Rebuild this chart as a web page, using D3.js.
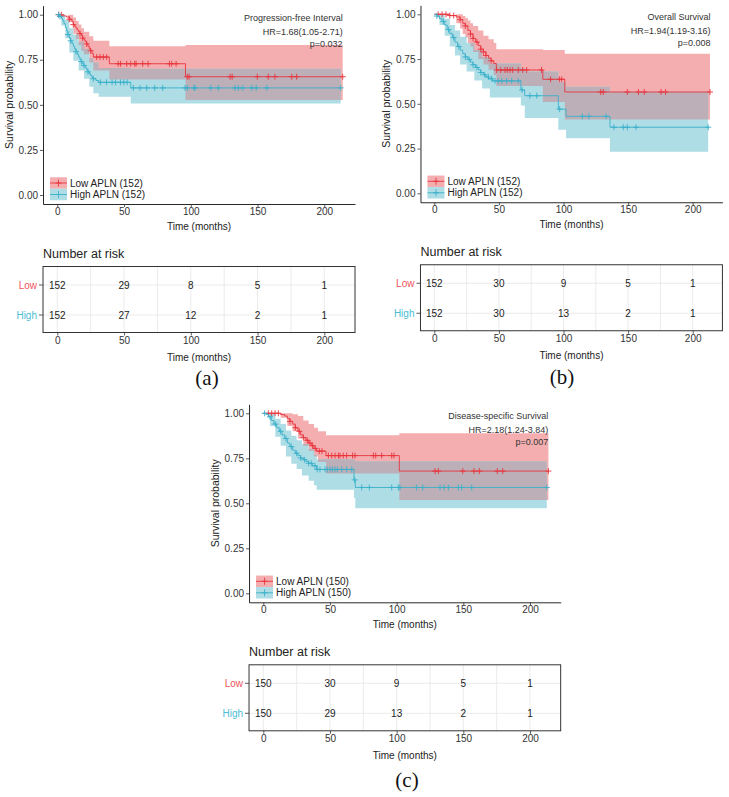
<!DOCTYPE html>
<html><head><meta charset="utf-8">
<script src="https://cdn.jsdelivr.net/npm/d3@7"></script>
<style>body{margin:0;background:#fff}svg{display:block}</style>
</head><body><svg id="c" width="729" height="797"></svg>
<script>
// ---------------- DATA ----------------
const timeTicks = [0, 50, 100, 150, 200];
const survTicks = [0, 0.25, 0.5, 0.75, 1];
const gridTimes = [0, 25, 50, 75, 100, 125, 150, 175, 200];
const groupNames = ["Low", "High"];

// (a) Progression-free Interval
const pfiTitle = ["Progression-free Interval", "HR=1.68(1.05-2.71)", "p=0.032"];
const pfiLegend = ["Low APLN (152)", "High APLN (152)"];
const pfiLowT = [0,4,7,9,11,12,13,14,15,16,17,18,19,20,21,22,23,24,25,26,27,39,96];
const pfiLowS = [1,0.993,0.987,0.975,0.96,0.945,0.935,0.925,0.915,0.905,0.895,0.885,0.87,0.86,0.85,0.838,0.825,0.81,0.8,0.785,0.765,0.728,0.656];
const pfiLowCiT = [0,8,12,14,16,18,20,24,27,39,96];
const pfiLowLo = [1,0.96,0.895,0.865,0.83,0.80,0.78,0.735,0.69,0.64,0.527];
const pfiLowHi = [1,1,0.985,0.965,0.945,0.925,0.905,0.88,0.855,0.825,0.832];
const pfiLowCens = [1,3,9,12,17,19,22,25,29.5,32,34.5,37,45.6,47.4,52,55,58,59,64,68,84,85.7,89,97.4,98.7,129.4,131,149.8,158,163,175.6,179.3,213.8];
const pfiHighT = [0,2,3,4,5,6,7,8,9,10,11,12,13,14,15,16,17,18,19,20,21,22,23,24,25,26,27,29,31,55];
const pfiHighS = [1,0.99,0.98,0.967,0.95,0.93,0.91,0.89,0.87,0.855,0.84,0.825,0.81,0.795,0.78,0.765,0.75,0.74,0.728,0.718,0.707,0.695,0.683,0.672,0.662,0.652,0.645,0.635,0.625,0.594];
const pfiHighCiT = [0,3,6,9,12,16,20,24,27,31,55];
const pfiHighLo = [1,0.94,0.87,0.79,0.745,0.69,0.645,0.6,0.565,0.545,0.507];
const pfiHighHi = [1,1,0.97,0.925,0.89,0.85,0.81,0.76,0.735,0.705,0.70];
const pfiHighCens = [1,2,8,10,14,18,20,23,27,32.3,36.8,41,43.6,47.3,49.8,52.3,57,62,67,73,79,95.7,97.4,102.4,103.1,114.9,120.6,133.1,135.6,138.9,145.6,149,156.9,212.3];
const pfiEnd = [213.8, 212.3];
const pfiRiskLow = [152, 29, 8, 5, 1];
const pfiRiskHigh = [152, 27, 12, 2, 1];

// (b) Overall Survival
const osTitle = ["Overall Survival", "HR=1.94(1.19-3.16)", "p=0.008"];
const osLegend = ["Low APLN (152)", "High APLN (152)"];
const osLowT = [0,12,17,20,22,24,26,28,30,32,34,36,38,40,42,44,46,48,84,101];
const osLowS = [1,0.993,0.985,0.97,0.95,0.935,0.91,0.89,0.865,0.845,0.825,0.805,0.79,0.77,0.755,0.74,0.725,0.689,0.637,0.566];
const osLowCiT = [0,17,20,22,24,26,28,30,34,38,42,46,48,84,101];
const osLowLo = [1,0.95,0.92,0.89,0.87,0.84,0.82,0.79,0.75,0.72,0.69,0.66,0.60,0.51,0.412];
const osLowHi = [1,1,1,0.99,0.98,0.965,0.95,0.935,0.91,0.88,0.86,0.84,0.805,0.80,0.78];
const osLowCens = [3,6,9,12,15,20,24,28,30,33,36,38,40,44,48.3,51.4,54.7,56.5,58.6,60.7,65,68.4,71.5,83,90,96.8,98.6,128.8,130.8,149.4,158,162.5,175.5,179,213.4];
const osHighT = [0,2,4,6,8,10,12,14,16,18,20,22,24,26,28,30,32,34,36,38,40,42,45,67,70,96,102,136];
const osHighS = [1,0.99,0.975,0.96,0.94,0.915,0.893,0.87,0.845,0.82,0.8,0.78,0.762,0.748,0.733,0.718,0.703,0.69,0.675,0.662,0.65,0.64,0.628,0.577,0.545,0.47,0.43,0.369];
const osHighCiT = [0,4,8,12,16,20,25,31,37,43,67,70,96,102,136];
const osHighLo = [1,0.94,0.88,0.82,0.77,0.72,0.68,0.63,0.585,0.535,0.49,0.42,0.355,0.307,0.232];
const osHighHi = [1,1,0.975,0.94,0.91,0.875,0.84,0.8,0.76,0.725,0.70,0.68,0.62,0.595,0.568];
const osHighCens = [2,7,11,15,19,24,27,30,33,36,39,41.8,44.4,47,49.5,52.2,56,59.9,65,68,74,79.3,97,114.6,119.7,132.9,139,146.3,149.4,156.1,212];
const osEnd = [213.4, 212];
const osRiskLow = [152, 30, 9, 5, 1];
const osRiskHigh = [152, 30, 13, 2, 1];

// (c) Disease-specific Survival
const dssTitle = ["Disease-specific Survival", "HR=2.18(1.24-3.84)", "p=0.007"];
const dssLegend = ["Low APLN (150)", "High APLN (150)"];
const dssLowT = [0,13,16,18,20,22,24,26,28,30,32,34,36,38,40,47,102];
const dssLowS = [1,0.993,0.985,0.97,0.955,0.94,0.92,0.9,0.88,0.865,0.85,0.835,0.82,0.805,0.79,0.765,0.679];
const dssLowCiT = [0,13,18,22,26,30,34,38,41,47,102];
const dssLowLo = [1,0.975,0.93,0.9,0.86,0.82,0.79,0.76,0.73,0.665,0.518];
const dssLowHi = [1,1,1,0.995,0.985,0.96,0.94,0.92,0.9,0.878,0.889];
const dssLowCens = [3.8,6.3,8.8,11.3,20,24,27,30,33,35,37,39,42,44,48.8,51.3,53.8,56.3,57.5,60,62.5,67,68.8,82.5,84.3,88.8,96.3,98,128.8,131.3,149.6,158,162,175.5,179.6,213.8];
const dssHighT = [0,2,4,6,8,10,12,14,16,18,20,22,24,26,28,30,32,34,37,40,68,69];
const dssHighS = [1,0.993,0.98,0.96,0.94,0.92,0.9,0.88,0.86,0.835,0.815,0.795,0.778,0.765,0.752,0.742,0.732,0.722,0.708,0.688,0.63,0.588];
const dssHighCiT = [0,5,9,13,17,21,25,29,34,38,40,68,69];
const dssHighLo = [1,0.93,0.87,0.82,0.76,0.72,0.69,0.655,0.625,0.6,0.575,0.53,0.472];
const dssHighHi = [1,1,0.97,0.94,0.905,0.875,0.85,0.83,0.8,0.77,0.745,0.74,0.733];
const dssHighCens = [1,5,9,13,17,21,25,28,31,34,36,38.8,40.5,42.5,46.3,48,50,51.8,53.8,55.5,58.8,62.5,66.3,68.5,73.8,79.5,96.3,101.3,102.5,115,119.6,132.5,135.5,138.8,146.3,148.8,156.3,212.6];
const dssEnd = [213.8, 212.6];
const dssRiskLow = [150, 30, 9, 5, 1];
const dssRiskHigh = [150, 29, 13, 2, 1];

const panelLetters = ["(a)", "(b)", "(c)"];

// ---------------- BUILD ----------------
const panels = [
  {title: pfiTitle, legend: pfiLegend, risk: [pfiRiskLow, pfiRiskHigh],
   groups: [
     {t: pfiLowT, s: pfiLowS, ciT: pfiLowCiT, lo: pfiLowLo, hi: pfiLowHi, cens: pfiLowCens, end: pfiEnd[0]},
     {t: pfiHighT, s: pfiHighS, ciT: pfiHighCiT, lo: pfiHighLo, hi: pfiHighHi, cens: pfiHighCens, end: pfiEnd[1]}]},
  {title: osTitle, legend: osLegend, risk: [osRiskLow, osRiskHigh],
   groups: [
     {t: osLowT, s: osLowS, ciT: osLowCiT, lo: osLowLo, hi: osLowHi, cens: osLowCens, end: osEnd[0]},
     {t: osHighT, s: osHighS, ciT: osHighCiT, lo: osHighLo, hi: osHighHi, cens: osHighCens, end: osEnd[1]}]},
  {title: dssTitle, legend: dssLegend, risk: [dssRiskLow, dssRiskHigh],
   groups: [
     {t: dssLowT, s: dssLowS, ciT: dssLowCiT, lo: dssLowLo, hi: dssLowHi, cens: dssLowCens, end: dssEnd[0]},
     {t: dssHighT, s: dssHighS, ciT: dssHighCiT, lo: dssHighLo, hi: dssHighHi, cens: dssHighCens, end: dssEnd[1]}]}
];

// layout (pixel positions)
const layout = [
  {x0: 57.3, x200: 324.3, y1: 14.7, y0: 195, letter: [207, 378]},
  {x0: 434.3, x200: 692.7, y1: 14.3, y0: 193.3, letter: [562, 377]},
  {x0: 263.3, x200: 530, y1: 413.3, y0: 593.3, letter: [407, 780]}
];

const FONT = '"Liberation Sans", Arial, Helvetica, sans-serif';
const lineCol = ["#E8353E", "#3AB0CA"];
const bandCol = ["#F5AEB0", "#AEDDE6"];
const overlapCol = "#BCAFB8";
const labelCol = ["#F0525A", "#4DBDD4"];
const tickText = "#333";

const svg = d3.select("#c");

function stepVal(times, vals, t) {
  let v = vals[0];
  for (let i = 0; i < times.length; i++) { if (times[i] <= t) v = vals[i]; else break; }
  return v;
}

function styleAxis(ax, size) {
  ax.attr("font-family", FONT).attr("font-size", size);
  ax.selectAll(".tick text").attr("fill", tickText);
  ax.selectAll(".tick line").attr("stroke", "#333").attr("stroke-width", 0.8);
  ax.select(".domain").attr("stroke", "#111").attr("stroke-width", 0.9);
}

function drawPanel(P, L, idx) {
  const g = svg.append("g");
  const sx = (L.x200 - L.x0) / 200;
  const x = d3.scaleLinear().domain([-10.7, 223]).range([L.x0 - 10.7 * sx, L.x0 + 223 * sx]);
  const sy = L.y0 - L.y1;
  const y = d3.scaleLinear().domain([-0.05, 1.05]).range([L.y0 + 0.05 * sy, L.y1 - 0.05 * sy]);
  const xL = x(-10.7), xR = x(223), yB = y(-0.05), yT = y(1.05);

  const area = d3.area().curve(d3.curveStepAfter).x(d => x(d[0])).y0(d => y(d[1])).y1(d => y(d[2]));
  const line = d3.line().curve(d3.curveStepAfter).x(d => x(d[0])).y(d => y(d[1]));

  // bands
  P.groups.forEach((G, i) => {
    const pts = G.ciT.map((t, k) => [t, G.lo[k], G.hi[k]]);
    pts.push([G.end, G.lo[G.lo.length - 1], G.hi[G.hi.length - 1]]);
    g.append("path").attr("d", area(pts)).attr("fill", bandCol[i]);
  });
  // overlap
  const A = P.groups[0], B = P.groups[1];
  const endMin = Math.min(A.end, B.end);
  const ts = Array.from(new Set(A.ciT.concat(B.ciT))).filter(t => t < endMin).sort((a, b) => a - b);
  ts.push(endMin);
  const ov = ts.map(t => {
    const lo = Math.max(stepVal(A.ciT, A.lo, t), stepVal(B.ciT, B.lo, t));
    let hi = Math.min(stepVal(A.ciT, A.hi, t), stepVal(B.ciT, B.hi, t));
    if (hi < lo) hi = lo;
    return [t, lo, hi];
  });
  g.append("path").attr("d", area(ov)).attr("fill", overlapCol);

  // curves
  P.groups.forEach((G, i) => {
    const pts = G.t.map((t, k) => [t, G.s[k]]);
    pts.push([G.end, G.s[G.s.length - 1]]);
    g.append("path").attr("d", line(pts)).attr("fill", "none").attr("stroke", lineCol[i]).attr("stroke-width", 0.9);
    g.append("g").selectAll("path").data(G.cens).join("path")
      .attr("transform", c => `translate(${x(c)},${y(stepVal(G.t, G.s, c))})`)
      .attr("d", "M-3,0H3M0,-3V3").attr("stroke", lineCol[i]).attr("stroke-width", 0.9).attr("fill", "none");
  });

  // axes
  const ax = g.append("g").attr("transform", `translate(0,${yB})`)
    .call(d3.axisBottom(x).tickValues(timeTicks).tickSize(3).tickSizeOuter(0).tickPadding(1));
  styleAxis(ax, 10);
  const ay = g.append("g").attr("transform", `translate(${xL},0)`)
    .call(d3.axisLeft(y).tickValues(survTicks).tickFormat(d3.format(".2f")).tickSize(3).tickSizeOuter(0).tickPadding(2));
  styleAxis(ay, 10);

  g.append("text").attr("x", (xL + xR) / 2).attr("y", yB + 22).attr("dy", "0.35em")
    .attr("text-anchor", "middle").attr("font-family", FONT).attr("font-size", 10).attr("fill", "#222")
    .text("Time (months)");
  g.append("text").attr("transform", `translate(${xL - 30},${(yT + yB) / 2}) rotate(-90)`)
    .attr("text-anchor", "middle").attr("font-family", FONT).attr("font-size", 10.5).attr("fill", "#222")
    .text("Survival probability");

  // annotation
  P.title.forEach((s, k) => {
    g.append("text").attr("x", x(213) + 1).attr("y", y(1) + [3, 17, 29][k]).attr("dy", "0.35em")
      .attr("text-anchor", "end").attr("font-family", FONT).attr("font-size", 9).attr("fill", "#333").text(s);
  });

  // legend
  P.legend.forEach((s, i) => {
    const ky = y(0) + (i === 0 ? -12 : -0.5);
    const kx = xL + 7;
    g.append("rect").attr("x", kx).attr("y", ky - 5.75).attr("width", 17).attr("height", 11.5).attr("fill", bandCol[i]);
    g.append("line").attr("x1", kx).attr("x2", kx + 17).attr("y1", ky).attr("y2", ky).attr("stroke", lineCol[i]).attr("stroke-width", 0.9);
    g.append("path").attr("transform", `translate(${kx + 8.5},${ky})`).attr("d", "M-3,0H3M0,-3.5V3.5")
      .attr("stroke", lineCol[i]).attr("stroke-width", 0.9);
    g.append("text").attr("x", kx + 20).attr("y", ky).attr("dy", "0.35em").attr("font-family", FONT)
      .attr("font-size", 10).attr("fill", "#222").text(s);
  });

  // risk table
  const top = yB + 62.5, bot = yB + 128.5;
  const row = d3.scalePoint().domain(groupNames).range([yB + 81, yB + 111]);
  g.append("text").attr("x", xL).attr("y", yB + 49.5).attr("dy", "0.35em").attr("font-family", FONT)
    .attr("font-size", 12.5).attr("fill", "#222").text("Number at risk");
  g.append("g").selectAll("line").data(gridTimes).join("line")
    .attr("x1", d => x(d)).attr("x2", d => x(d)).attr("y1", top).attr("y2", bot)
    .attr("stroke", "#E6E6E6").attr("stroke-width", 0.8);
  g.append("g").selectAll("line").data(groupNames).join("line")
    .attr("x1", xL).attr("x2", xR).attr("y1", d => row(d)).attr("y2", d => row(d))
    .attr("stroke", "#E6E6E6").attr("stroke-width", 0.8);
  g.append("rect").attr("x", xL).attr("y", top).attr("width", xR - xL).attr("height", bot - top)
    .attr("fill", "none").attr("stroke", "#333").attr("stroke-width", 1);
  groupNames.forEach((nm, i) => {
    g.append("line").attr("x1", xL - 4).attr("x2", xL).attr("y1", row(nm)).attr("y2", row(nm)).attr("stroke", "#333").attr("stroke-width", 0.8);
    g.append("text").attr("x", xL - 6).attr("y", row(nm)).attr("dy", "0.35em").attr("text-anchor", "end")
      .attr("font-family", FONT).attr("font-size", 10).attr("fill", labelCol[i]).text(nm);
    g.append("g").selectAll("text").data(P.risk[i]).join("text")
      .attr("x", (d, k) => x(timeTicks[k])).attr("y", row(nm)).attr("dy", "0.35em").attr("text-anchor", "middle")
      .attr("font-family", FONT).attr("font-size", 10).attr("fill", "#222").text(d => d);
  });
  const at = g.append("g").attr("transform", `translate(0,${bot})`)
    .call(d3.axisBottom(x).tickValues(timeTicks).tickSize(3).tickSizeOuter(0).tickPadding(1));
  styleAxis(at, 10);
  at.select(".domain").remove();
  g.append("text").attr("x", (xL + xR) / 2).attr("y", yB + 153).attr("dy", "0.35em")
    .attr("text-anchor", "middle").attr("font-family", FONT).attr("font-size", 10).attr("fill", "#222")
    .text("Time (months)");

  g.append("text").attr("x", L.letter[0]).attr("y", L.letter[1]).attr("dy", "0.35em").attr("text-anchor", "middle")
    .attr("font-family", '"Liberation Serif", "Times New Roman", serif').attr("font-size", 21).attr("fill", "#111")
    .text(panelLetters[idx]);
}

panels.forEach((P, i) => drawPanel(P, layout[i], i));
</script>
</body></html>
